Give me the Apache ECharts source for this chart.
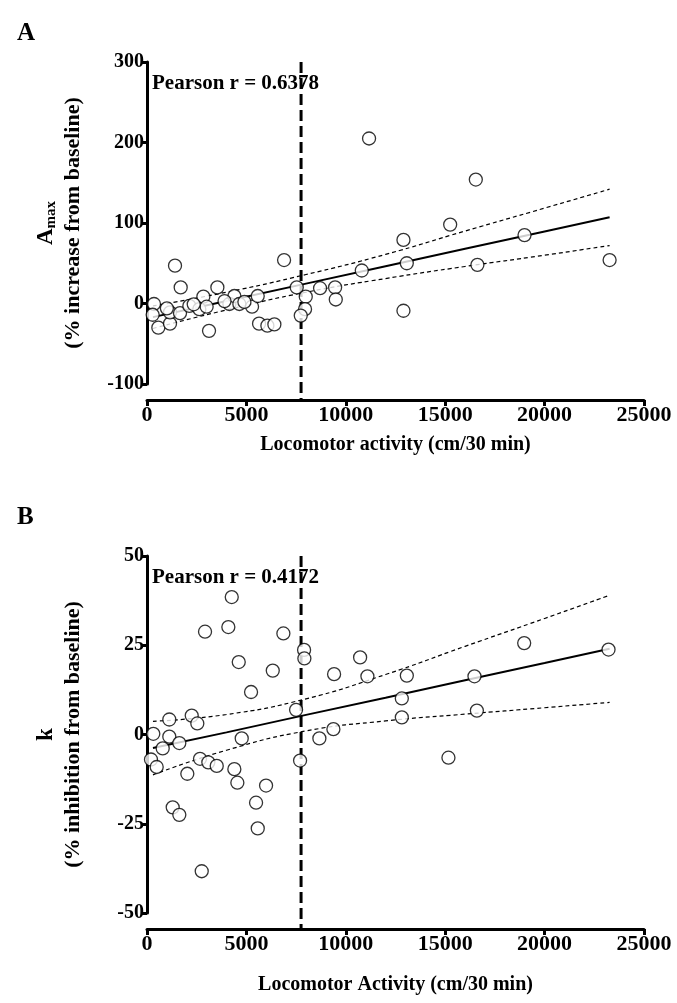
<!DOCTYPE html>
<html>
<head>
<meta charset="utf-8">
<script src="https://cdn.jsdelivr.net/npm/echarts@6/dist/echarts.min.js"></script>
<style>
  html, body { margin: 0; padding: 0; background: #fff; }
  #chart { width: 677px; height: 1003px; }
</style>
</head>
<body>
<div id="chart"></div>
<script>
// panel A : Amax vs locomotor activity
const locoA = [11170, 6895, 1409, 1695, 3540, 2835, 352, 285, 570, 1157, 1157, 1660, 2130, 2633, 3000, 3120,
  4144, 4395, 4645, 5284, 5570, 5637, 6055, 6407, 7533, 7986, 7950, 7734, 8706, 9462, 9496, 10804,
  12900, 13068, 12900, 16540, 15250, 16620, 18990, 23270, 2350, 4900, 1000, 3900];
const amaxA = [205, 54, 47, 20, 20, 8.5, -0.6, -14, -30, -25, -11, -12, -3, -7, -4, -34,
  -0.6, 9.3, -0.6, -4, 9.3, -25, -27.5, -26, 20, 8.5, -7, -15, 19, 20, 5, 41,
  79, 50, -9, 154, 98, 48, 85, 54, -1, 2, -6, 3];

// panel B : k vs locomotor activity
const locoB = [4263, 2919, 4092, 6860, 7901, 7916, 4615, 6326, 9411, 10720, 11087, 13070, 5234, 7499, 12818, 12818,
  9376, 8671, 4765, 2250, 2531, 1122, 317, 1122, 1626, 790, 201, 488, 2667, 3085, 3508, 2028,
  4394, 4545, 5989, 7700, 5486, 1293, 1626, 5571, 2753, 18973, 23216, 16472, 16593, 15163];
const kB = [38.5, 28.8, 30.1, 28.3, 23.7, 21.3, 20.3, 17.9, 16.9, 21.6, 16.3, 16.5, 11.9, 6.9, 10.1, 4.8,
  1.5, -1.1, -1.1, 5.3, 3.1, 4.2, 0.2, -0.6, -2.4, -3.9, -7.0, -9.1, -6.8, -7.8, -8.8, -11.0,
  -9.7, -13.5, -14.3, -7.3, -19.1, -20.4, -22.5, -26.3, -38.3, 25.6, 23.8, 16.3, 6.7, -6.5];

// regression line and 95% bands
const fitX = [300, 4000, 8000, 12000, 16000, 20000, 23270];
const fitA = [-16.9, 3.1, 24.7, 46.3, 67.9, 89.5, 107.1];
const upA = [-3, 14, 36, 61, 90, 118.5, 142];
const loA = [-31, -8, 14, 31, 46, 60, 72];
const fitB = [-3.8, 0.6, 5.5, 10.3, 15.2, 20.0, 24.0];
const upB = [3.7, 5.6, 10.0, 16.8, 24.7, 32.5, 39];
const loB = [-11.3, -4.4, 1.0, 3.8, 5.7, 7.5, 9.0];

const cutoff = 7750;
const pearsonA = 'Pearson r = 0.6378';
const pearsonB = 'Pearson r = 0.4172';

const FONT = 'Liberation Serif';

function pairs(xs, ys) {
    let out = [];
    for (let i = 0; i < xs.length; i++) {
        out.push([xs[i], ys[i]]);
    }
    return out;
}

function xAxisOf(idx, title, off, gap) {
    return {
        gridIndex: idx,
        type: 'value',
        min: 0,
        max: 25000,
        interval: 5000,
        offset: off,
        splitLine: { show: false },
        axisLine: { onZero: false, lineStyle: { color: '#000', width: 3 } },
        axisTick: { length: 6, lineStyle: { color: '#000', width: 3 } },
        axisLabel: {
            color: '#000', fontFamily: FONT, fontWeight: 'bold', fontSize: 22, margin: 4,
            formatter: function (v) { return String(v); }
        },
        name: title,
        nameLocation: 'middle',
        nameGap: gap,
        nameTextStyle: { color: '#000', fontFamily: FONT, fontWeight: 'bold', fontSize: 20 }
    };
}

function yAxisOf(idx, min, max, step, name, rich) {
    return {
        gridIndex: idx,
        type: 'value',
        min: min,
        max: max,
        interval: step,
        splitLine: { show: false },
        axisLine: { lineStyle: { color: '#000', width: 3 } },
        axisTick: { length: 6, lineStyle: { color: '#000', width: 3 } },
        axisLabel: { color: '#000', fontFamily: FONT, fontWeight: 'bold', fontSize: 20, margin: 3 },
        name: name,
        nameLocation: 'middle',
        nameGap: 60,
        nameRotate: 90,
        nameTextStyle: { color: '#000', fontFamily: FONT, fontWeight: 'bold', fontSize: 22, lineHeight: 27, rich: rich }
    };
}

const richA = {
    a: { fontFamily: FONT, fontWeight: 'bold', fontSize: 23, color: '#000', lineHeight: 27 },
    s: { fontFamily: FONT, fontWeight: 'bold', fontSize: 15, color: '#000', lineHeight: 27, padding: [10, 0, 0, 0] },
    n: { fontFamily: FONT, fontWeight: 'bold', fontSize: 22, color: '#000', lineHeight: 27 }
};
const richB = {
    a: { fontFamily: FONT, fontWeight: 'bold', fontSize: 23, color: '#000', lineHeight: 27 },
    n: { fontFamily: FONT, fontWeight: 'bold', fontSize: 22, color: '#000', lineHeight: 27 }
};

function panelSeries(idx, xs, ys, fit, up, lo, cut) {
    let dash = { color: '#000', width: 1.2, type: [4, 3] };
    return [
        {
            type: 'line', xAxisIndex: idx, yAxisIndex: idx, data: pairs(fitX, up),
            showSymbol: false, smooth: true, lineStyle: dash, z: 2
        },
        {
            type: 'line', xAxisIndex: idx, yAxisIndex: idx, data: pairs(fitX, lo),
            showSymbol: false, smooth: true, lineStyle: dash, z: 2
        },
        {
            type: 'line', xAxisIndex: idx, yAxisIndex: idx, data: pairs(fitX, fit),
            showSymbol: false, lineStyle: { color: '#000', width: 2 }, z: 3
        },
        {
            type: 'line', xAxisIndex: idx, yAxisIndex: idx, data: [[cutoff, cut[0]], [cutoff, cut[1]]],
            showSymbol: false, clip: false, lineStyle: { color: '#000', width: 3, type: [11, 5] }, z: 4
        },
        {
            type: 'scatter', xAxisIndex: idx, yAxisIndex: idx, data: pairs(xs, ys),
            symbol: 'circle', symbolSize: 13,
            itemStyle: { color: '#fff', borderColor: '#000', borderWidth: 1.3 }, z: 5
        }
    ];
}

var myChart = echarts.init(document.getElementById('chart'), null, { renderer: 'canvas' });
var option = {
    backgroundColor: '#fff',
    animation: false,
    title: [
        { text: 'A', left: 12, top: 16, textStyle: { fontFamily: FONT, fontWeight: 'bold', fontSize: 25, color: '#000' } },
        { text: 'B', left: 12, top: 500, textStyle: { fontFamily: FONT, fontWeight: 'bold', fontSize: 25, color: '#000' } },
        { text: pearsonA, left: 147, top: 68, textStyle: { fontFamily: FONT, fontWeight: 'bold', fontSize: 21, color: '#000' } },
        { text: pearsonB, left: 147, top: 562, textStyle: { fontFamily: FONT, fontWeight: 'bold', fontSize: 21, color: '#000' } }
    ],
    grid: [
        { left: 147, right: 33, top: 62, height: 322 },
        { left: 147, right: 33, top: 556, height: 357 }
    ],
    xAxis: [
        xAxisOf(0, 'Locomotor activity (cm/30 min)', 16, 35),
        xAxisOf(1, 'Locomotor Activity (cm/30 min)', 16, 46)
    ],
    yAxis: [
        yAxisOf(0, -100, 300, 100, '{a|A}{s|max}\n{n|(% increase from baseline)}', richA),
        yAxisOf(1, -50, 50, 25, '{a|k}\n{n|(% inhibition from baseline)}', richB)
    ],
    series: [].concat(
        panelSeries(0, locoA, amaxA, fitA, upA, loA, [300, -120]),
        panelSeries(1, locoB, kB, fitB, upB, loB, [50, -55])
    )
};
myChart.setOption(option);
window.addEventListener('resize', function () {
    myChart.resize();
});
</script>
</body>
</html>
